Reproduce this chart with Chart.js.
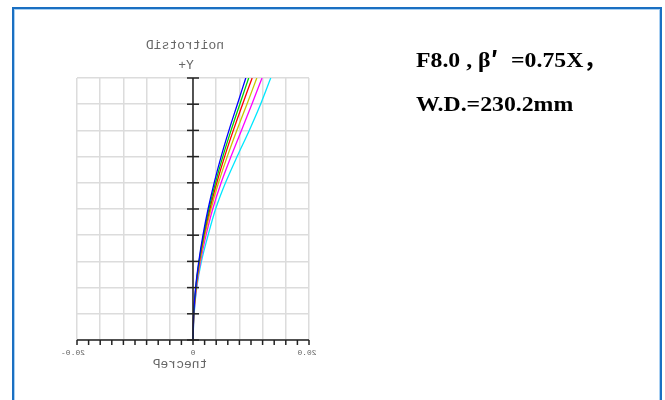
<!DOCTYPE html>
<html>
<head>
<meta charset="utf-8">
<script src="https://cdn.jsdelivr.net/npm/chart.js@4.4.1/dist/chart.umd.min.js"></script>
<style>
html,body{margin:0;padding:0;background:#fff;}
#wrap{position:relative;width:665px;height:400px;}
canvas{display:block;}
</style>
</head>
<body>
<div id="wrap"><canvas id="c" width="665" height="400"></canvas></div>
<script>
// Relative field height (0 = axis, 1 = full field)
const fieldY = [0, 0.1, 0.2, 0.3, 0.4, 0.5, 0.6, 0.7, 0.8, 0.9, 1.0];
// Distortion in percent for each wavelength curve
const blueX    = [0, 0.12, 0.45, 1.00, 1.72, 2.60, 3.65, 4.85, 6.20, 7.65, 9.10];
const greenX   = [0, 0.13, 0.48, 1.05, 1.82, 2.75, 3.87, 5.14, 6.56, 8.07, 9.60];
const redX     = [0, 0.13, 0.50, 1.10, 1.90, 2.90, 4.10, 5.45, 6.95, 8.55, 10.20];
const oliveX   = [0, 0.15, 0.55, 1.20, 2.05, 3.10, 4.40, 5.90, 7.55, 9.30, 11.00];
const magentaX = [0, 0.17, 0.60, 1.30, 2.25, 3.40, 4.85, 6.55, 8.35, 10.15, 11.90];
const cyanX    = [0, 0.20, 0.65, 1.45, 2.60, 3.90, 5.60, 7.60, 9.70, 11.65, 13.40];
const seriesColors = ['#0000ff', '#00d000', '#ff0000', '#c8c800', '#ff00ff', '#00e8ff'];
const seriesValues = [blueX, greenX, redX, oliveX, magentaX, cyanX];
// Axis range and tick labels
const xMin = -20, xMax = 20, xGridStep = 4, xMinorStep = 2;
const yMin = 0, yMax = 1, yStep = 0.1;
const xTickLabels = [{v: -20, t: '20.0-'}, {v: 0, t: '0'}, {v: 20, t: '20.0'}];
const yAxisLabel = 'Distortion';
const xAxisLabel = 'Percent';
const fieldLabel = '+Y';
const infoParts1 = [
  {t: 'F8.0 , β', cjk: false, minAdv: 0},
  {t: '′', cjk: true, minAdv: 19},
  {t: '=0.75X', cjk: false, minAdv: 0},
  {t: '，', cjk: true, minAdv: 0}
];
const infoLine2 = 'W.D.=230.2mm';

const datasets = seriesValues.map((vals, i) => ({
  data: vals.map((x, k) => ({x: x, y: fieldY[k]})),
  borderColor: seriesColors[i],
  backgroundColor: seriesColors[i],
  borderWidth: 1.3,
  pointRadius: 0,
  showLine: true,
  tension: 0.3,
  fill: false
}));

function mirroredText(ctx, txt, x, y) {
  ctx.save();
  ctx.translate(x, y);
  ctx.scale(-1, 1);
  ctx.fillText(txt, 0, 0);
  ctx.restore();
}
function rev(s) { return s.split('').reverse().join(''); }

const serifFont = 'bold 22px "Liberation Serif", "Times New Roman", serif';
const cjkFont = 'bold 22px "Noto Sans CJK SC", sans-serif';

const decor = {
  id: 'decor',
  beforeDraw(chart) {
    const ctx = chart.ctx;
    ctx.save();
    ctx.fillStyle = '#fff';
    ctx.fillRect(0, 0, chart.width, chart.height);
    ctx.restore();
  },
  afterDatasetsDraw(chart) {
    const ctx = chart.ctx;
    const xs = chart.scales.x, ys = chart.scales.y;
    const x0 = xs.getPixelForValue(0);
    const yb = ys.getPixelForValue(yMin), yt = ys.getPixelForValue(yMax);
    ctx.save();
    // vertical center axis
    ctx.strokeStyle = '#222';
    ctx.lineWidth = 1.5;
    ctx.beginPath();
    ctx.moveTo(x0, yb); ctx.lineTo(x0, yt);
    ctx.stroke();
    for (let v = yMin; v <= yMax + 1e-9; v += yStep) {
      const py = ys.getPixelForValue(v);
      ctx.beginPath();
      ctx.moveTo(x0 - 6, py); ctx.lineTo(x0 + 6, py);
      ctx.stroke();
    }
    // bottom axis
    const xl = xs.getPixelForValue(xMin), xr = xs.getPixelForValue(xMax);
    ctx.beginPath();
    ctx.moveTo(xl, yb); ctx.lineTo(xr, yb);
    ctx.stroke();
    for (let v = xMin; v <= xMax + 1e-9; v += xMinorStep) {
      const px = xs.getPixelForValue(v);
      ctx.beginPath();
      ctx.moveTo(px, yb); ctx.lineTo(px, yb + 5);
      ctx.stroke();
    }
    // mirrored labels
    ctx.fillStyle = '#666';
    ctx.textAlign = 'center';
    ctx.textBaseline = 'middle';
    ctx.font = '8px "Liberation Mono", monospace';
    xTickLabels.forEach(l => {
      const off = l.v === xMin ? -4 : (l.v === xMax ? -2 : 0);
      mirroredText(ctx, l.t, xs.getPixelForValue(l.v) + off, yb + 13);
    });
    ctx.font = '13px "Liberation Mono", monospace';
    mirroredText(ctx, rev(yAxisLabel), x0 - 8, 46);
    mirroredText(ctx, rev(xAxisLabel), x0 - 13, yb + 25);
    ctx.fillText(fieldLabel, x0 - 7, 66);
    // info text
    ctx.fillStyle = '#000';
    ctx.textAlign = 'left';
    ctx.textBaseline = 'alphabetic';
    ctx.save();
    ctx.translate(416, 67);
    ctx.scale(1.08, 1);
    let cx = 0;
    infoParts1.forEach(p => {
      ctx.font = p.cjk ? cjkFont : serifFont;
      ctx.fillText(p.t, cx, 0);
      cx += Math.max(ctx.measureText(p.t).width, p.minAdv);
    });
    ctx.restore();
    ctx.save();
    ctx.translate(416, 111);
    ctx.scale(1.08, 1);
    ctx.font = serifFont;
    ctx.fillText(infoLine2, 0, 0);
    ctx.restore();
    // frame
    ctx.strokeStyle = '#1a6fc2';
    ctx.lineWidth = 2;
    ctx.strokeRect(13, 8, 648, 400);
    ctx.strokeStyle = '#a9d0f2';
    ctx.lineWidth = 1;
    ctx.strokeRect(14.5, 9.5, 645, 400);
    ctx.restore();
  }
};

new Chart(document.getElementById('c'), {
  type: 'scatter',
  data: {datasets},
  options: {
    responsive: false,
    animation: false,
    devicePixelRatio: 1,
    layout: {padding: {left: 77, right: 356, top: 78, bottom: 60}},
    plugins: {legend: {display: false}, tooltip: {enabled: false}},
    scales: {
      x: {
        type: 'linear', min: xMin, max: xMax,
        ticks: {display: false, stepSize: xGridStep},
        grid: {color: '#dcdcdc', lineWidth: 1.5, drawTicks: false},
        border: {display: false}
      },
      y: {
        type: 'linear', min: yMin, max: yMax,
        ticks: {display: false, stepSize: yStep},
        grid: {color: '#dcdcdc', lineWidth: 1.5, drawTicks: false},
        border: {display: false}
      }
    }
  },
  plugins: [decor]
});
</script>
</body>
</html>
